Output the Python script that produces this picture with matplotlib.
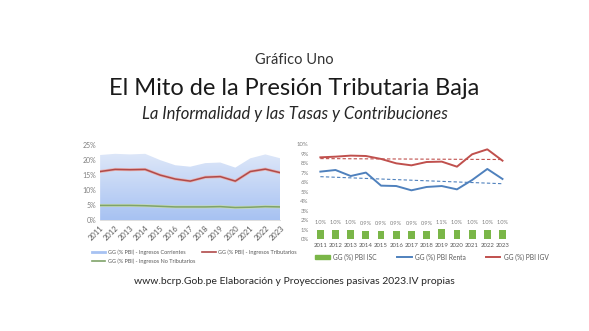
import numpy as np
import matplotlib.pyplot as plt
import matplotlib.patheffects as pe
from matplotlib.patches import Patch
from matplotlib.lines import Line2D

plt.rcParams['font.family'] = ['Lato', 'DejaVu Sans']

years = np.arange(2011, 2024)
year_labels = [str(y) for y in years]

# Left panel (% PBI)
corrientes = [21.7, 22.1, 21.9, 22.1, 20.0, 18.3, 17.8, 19.0, 19.2, 17.5, 20.6, 21.9, 20.6]
tributarios = [16.2, 16.9, 16.8, 16.9, 15.0, 13.7, 13.0, 14.3, 14.5, 13.0, 16.2, 17.0, 15.8]
no_tributarios = [4.9, 4.9, 4.9, 4.8, 4.6, 4.4, 4.4, 4.4, 4.5, 4.2, 4.3, 4.5, 4.4]

# Right panel (% PBI)
isc = [1.0, 1.0, 1.0, 0.9, 0.9, 0.9, 0.9, 0.9, 1.1, 1.0, 1.0, 1.0, 1.0]
renta = [7.1, 7.27, 6.64, 7.0, 5.63, 5.59, 5.14, 5.49, 5.59, 5.24, 6.22, 7.38, 6.33]
igv = [8.6, 8.67, 8.78, 8.74, 8.43, 7.97, 7.76, 8.11, 8.15, 7.62, 8.92, 9.44, 8.25]

tick_col = '#7f7f7f'

fig = plt.figure(figsize=(5.89, 3.31), dpi=100)

fig.text(0.5, 0.819, 'Gráfico Uno', ha='center', va='center', fontsize=10.5,
         color='#333333')
fig.text(0.5, 0.734, 'El Mito de la Presión Tributaria Baja', ha='center', va='center',
         fontsize=17, color='#1a1a1a')
fig.text(0.5, 0.656, 'La Informalidad y las Tasas y Contribuciones', ha='center', va='center',
         fontsize=12, style='italic', color='#262626')
fig.text(0.5, 0.151, 'www.bcrp.Gob.pe Elaboración y Proyecciones pasivas 2023.IV propias',
         ha='center', va='center', fontsize=7.5, color='#262626')

# ---- left chart
ax1 = fig.add_axes([0.170, 0.335, 0.306, 0.2266])
poly = ax1.fill_between(years, 0, corrientes, color='none', lw=0)
grad = np.linspace(0, 1, 256).reshape(-1, 1)
img = ax1.imshow(grad, cmap=plt.matplotlib.colors.LinearSegmentedColormap.from_list(
    'g', ['#e0e9f9', '#a7c2f2']), aspect='auto', extent=[2011, 2023, 0, 23],
    origin='upper', zorder=1)
img.set_clip_path(poly.get_paths()[0], transform=ax1.transData)
ax1.plot(years, tributarios, color='#b04a4a', lw=1.1, zorder=3,
         path_effects=[pe.Stroke(linewidth=2.2, foreground='#e6b3b3'), pe.Normal()])
ax1.plot(years, no_tributarios, color='#7fa36a', lw=1.1, zorder=3,
         path_effects=[pe.Stroke(linewidth=2.2, foreground='#c5dab8'), pe.Normal()])
ax1.set_xlim(2011, 2023)
ax1.set_ylim(0, 25)
ax1.set_yticks(range(0, 26, 5))
ax1.set_yticklabels([f'{v}%' for v in range(0, 26, 5)])
ax1.set_xticks(years)
ax1.set_xticklabels(year_labels, rotation=45, ha='right', rotation_mode='anchor')
for s in ['top', 'right', 'left']:
    ax1.spines[s].set_visible(False)
ax1.spines['bottom'].set_color('#d9d9d9')
ax1.spines['bottom'].set_linewidth(0.6)
ax1.tick_params(axis='both', length=0, labelsize=5, colors=tick_col, pad=3)
ax1.tick_params(axis='x', labelsize=5.5, colors='#595959')

# column-major order so rows read: Corrientes, Tributarios / No Tributarios
h1 = [Line2D([0], [0], color='#a7c2f2', lw=2),
      Line2D([0], [0], color='#7fa36a', lw=1.2),
      Line2D([0], [0], color='#b04a4a', lw=1.2)]
l1 = ['GG (% PBI) - Ingresos Corrientes', 'GG (% PBI) - Ingresos No Tributarios',
      'GG (% PBI) - Ingresos Tributarios']
ax1.legend(h1, l1, loc='upper left', bbox_to_anchor=(-0.06, -0.36), ncol=2, frameon=False,
           fontsize=4, handlelength=2.5, columnspacing=1.2, handletextpad=0.4,
           labelspacing=0.6, labelcolor='#595959', borderaxespad=0)

# ---- right chart
ax2 = fig.add_axes([0.531, 0.277, 0.335, 0.288])
x = np.arange(len(years))
bars = ax2.bar(x, isc, width=0.45, color='#7ab648', zorder=2)
for xi, v in zip(x, isc):
    ax2.text(xi, v + 0.45, f'{v:.1f}%', ha='center', va='bottom', fontsize=4, color='#7f7f7f')
ax2.plot(x, renta, color='#4f81bd', lw=1.4, zorder=3)
ax2.plot(x, igv, color='#c0504d', lw=1.4, zorder=3)
# linear trend lines
for ser, col in [(renta, '#4f81bd'), (igv, '#c0504d')]:
    k, b = np.polyfit(x, ser, 1)
    ax2.plot(x, k * x + b, color=col, lw=0.8, ls=(0, (3, 2)), zorder=3)
ax2.set_xlim(-0.5, 12.5)
ax2.set_ylim(0, 10)
ax2.set_yticks(range(0, 11))
ax2.set_yticklabels([f'{v}%' for v in range(0, 11)])
ax2.set_xticks(x)
ax2.set_xticklabels(year_labels)
for s in ax2.spines.values():
    s.set_visible(False)
ax2.tick_params(axis='both', length=0, labelsize=4.3, colors=tick_col, pad=3)
ax2.tick_params(axis='x', colors='#595959')

h2 = [Patch(color='#7ab648'), Line2D([0], [0], color='#4f81bd', lw=1.4),
      Line2D([0], [0], color='#c0504d', lw=1.4)]
l2 = ['GG (%) PBI ISC', 'GG (%) PBI Renta', 'GG (%) PBI IGV']
ax2.legend(h2, l2, loc='upper left', bbox_to_anchor=(0.0, -0.12), ncol=3, frameon=False,
           fontsize=4.8, handlelength=2.2, columnspacing=3.0, handletextpad=0.5,
           labelcolor='#595959', borderaxespad=0)

fig.savefig('out.png', dpi=100)
